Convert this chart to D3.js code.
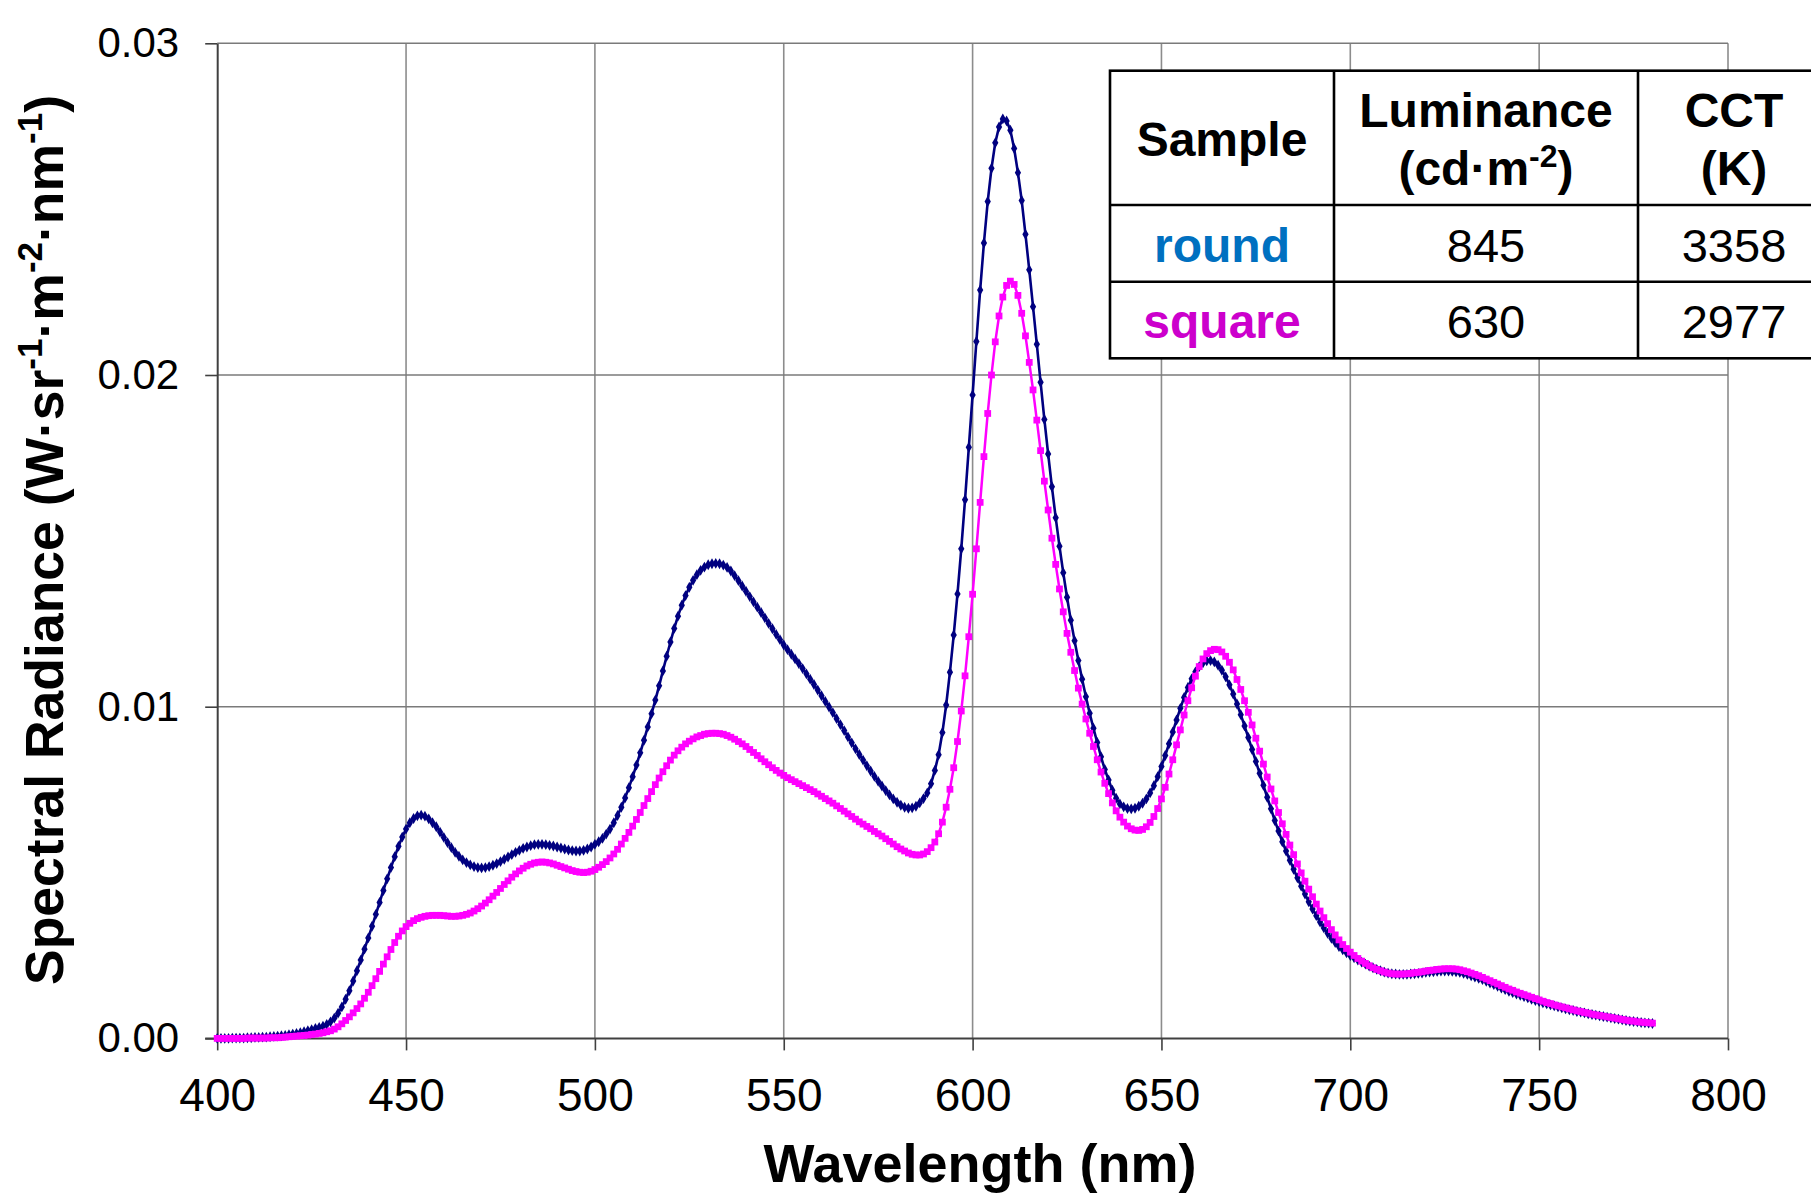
<!DOCTYPE html>
<html>
<head>
<meta charset="utf-8">
<script src="https://cdn.jsdelivr.net/npm/d3@7"></script>
<style>
  html, body { margin: 0; padding: 0; background: #ffffff; }
  svg { display: block; }
  text { font-family: "Liberation Sans", Arial, Helvetica, sans-serif; }
</style>
</head>
<body>
<svg id="chart" width="1811" height="1199"></svg>
<script>
// ---------------- DATA ----------------
const wavelengthStart = 400;   // nm, first sample
const wavelengthStep = 1;      // nm between samples

// Spectral radiance, sample "round" (navy, diamonds), 400..780 nm
const roundValues = [
  0,0,0,0,.00001,.00001,.00001,.00001,.00002,.00002,
  .00003,.00003,.00004,.00004,.00005,.00006,.00007,.00008,.00009,.00011,
  .00013,.00015,.00017,.0002,.00023,.00026,.0003,.00033,.00037,.00042,
  .0005,.00061,.00076,.00095,.00118,.00144,.00173,.00204,.00236,.00269,
  .00303,.00338,.00374,.0041,.00446,.00481,.00515,.00548,.00579,.00607,
  .00631,.0065,.00663,.00671,.00673,.0067,.00662,.0065,.00638,.00622,
  .00606,.0059,.00575,.00561,.00549,.00538,.0053,.00523,.00518,.00515,
  .00514,.00515,.00518,.00522,.00527,.00533,.0054,.00547,.00554,.00561,
  .00567,.00573,.00577,.00581,.00584,.00585,.00585,.00584,.00582,.0058,
  .00577,.00574,.00571,.00568,.00566,.00565,.00565,.00567,.00571,.00577,
  .00585,.00593,.00603,.00616,.00631,.0065,.00672,.00697,.00725,.00756,
  .00789,.00824,.00861,.00899,.00939,.00979,.0102,.01063,.01108,.01152,
  .01195,.01236,.01273,.01306,.01335,.0136,.01381,.01398,.01411,.01421,
  .01428,.01431,.01432,.01431,.01427,.0142,.01409,.01395,.0138,.01364,
  .01348,.01332,.01316,.013,.01284,.01268,.01251,.01235,.01218,.01202,
  .01186,.01172,.01158,.01144,.0113,.01115,.01099,.01083,.01067,.0105,
  .01033,.01016,.00999,.00982,.00964,.00946,.00928,.00909,.00891,.00873,
  .00856,.00839,.00822,.00806,.0079,.00775,.00761,.00747,.00734,.00722,
  .00712,.00703,.00697,.00694,.00695,.007,.0071,.00723,.0074,.00768,
  .00808,.00855,.00922,.01005,.01104,.01216,.0134,.01476,.01624,.01782,
  .0194,.02101,.02256,.02398,.02523,.02623,.027,.02748,.02772,.02766,
  .02738,.02683,.0261,.02526,.02424,.02317,.02206,.02093,.01978,.01866,
  .01762,.01663,.0157,.01484,.01404,.0133,.01261,.01199,.01139,.01083,
  .0103,.0098,.00935,.00892,.00849,.00811,.00779,.00748,.00724,.00707,
  .00698,.00693,.00692,.00694,.007,.00709,.00722,.0074,.00762,.00789,
  .0082,.00853,.00888,.00924,.0096,.00995,.01028,.01058,.01084,.01105,
  .01121,.01132,.01138,.01139,.01135,.01125,.0111,.0109,.01066,.01038,
  .01008,.00976,.00942,.00907,.00871,.00835,.00799,.00763,.00727,.00692,
  .00657,.00625,.00593,.00565,.00537,.0051,.00484,.00459,.00435,.00412,
  .0039,.0037,.00351,.00333,.00317,.00302,.00289,.00277,.00267,.00258,
  .0025,.00243,.00236,.0023,.00224,.00218,.00213,.00208,.00204,.002,
  .00197,.00195,.00194,.00193,.00193,.00193,.00194,.00195,.00196,.00197,
  .00199,.002,.00201,.00202,.00203,.00203,.00203,.00202,.00201,.00199,
  .00196,.00193,.00189,.00185,.00181,.00177,.00172,.00167,.00162,.00157,
  .00152,.00147,.00142,.00138,.00134,.0013,.00126,.00122,.00118,.00114,
  .00111,.00107,.00104,.00101,.00098,.00095,.00092,.00089,.00086,.00084,
  .00081,.00079,.00077,.00074,.00072,.0007,.00068,.00066,.00064,.00062,
  .0006,.00058,.00056,.00054,.00052,.00051,.0005,.00048,.00047,.00046,
  .00045
];

// Spectral radiance, sample "square" (magenta, squares), 400..780 nm
const squareValues = [
  0,0,0,0,0,0,0,0,.00001,.00001,
  .00001,.00001,.00001,.00001,.00002,.00002,.00002,.00003,.00004,.00005,
  .00006,.00007,.00008,.00009,.0001,.00012,.00013,.00015,.00017,.0002,
  .00023,.00028,.00035,.00044,.00054,.00065,.00077,.0009,.00104,.00121,
  .00139,.00159,.0018,.00202,.00224,.00246,.00268,.00289,.00308,.00324,
  .00337,.00347,.00355,.00361,.00365,.00368,.0037,.00371,.00371,.00371,
  .0037,.00369,.00368,.00368,.00369,.00371,.00374,.00378,.00384,.00391,
  .00399,.00408,.00418,.00429,.0044,.00452,.00464,.00475,.00486,.00496,
  .00505,.00513,.0052,.00525,.00529,.00531,.00532,.00531,.00529,.00526,
  .00522,.00518,.00514,.0051,.00506,.00503,.00501,.005,.00501,.00504,
  .00509,.00516,.00524,.00533,.00544,.00556,.0057,.00586,.00603,.00621,
  .0064,.0066,.00681,.00702,.00723,.00744,.00765,.00785,.00804,.00822,
  .00839,.00854,.00867,.00878,.00888,.00896,.00903,.00909,.00913,.00917,
  .00919,.0092,.0092,.00919,.00917,.00913,.00908,.00902,.00895,.00888,
  .0088,.00871,.00862,.00853,.00843,.00834,.00825,.00816,.00808,.008,
  .00793,.00786,.0078,.00774,.00768,.00762,.00756,.0075,.00744,.00737,
  .0073,.00723,.00716,.00709,.00701,.00693,.00685,.00677,.00669,.00661,
  .00653,.00646,.00639,.00632,.00624,.00617,.0061,.00602,.00594,.00586,
  .00578,.00571,.00565,.00559,.00555,.00553,.00553,.00556,.00563,.00575,
  .00592,.00617,.00652,.00697,.00751,.00816,.00895,.00987,.01093,.01211,
  .01339,.01476,.01616,.01754,.01884,.02,.021,.02178,.02235,.0227,
  .02283,.02273,.0224,.02186,.02118,.02038,.01955,.01864,.01772,.0168,
  .01593,.01508,.01429,.01355,.01286,.01221,.01164,.01109,.01056,.01008,
  .00963,.0092,.0088,.0084,.00803,.00769,.00738,.0071,.00686,.00667,
  .00652,.0064,.00632,.00628,.00627,.0063,.00638,.00651,.00669,.00693,
  .00722,.00757,.00797,.0084,.00885,.0093,.00975,.01018,.01057,.01092,
  .01121,.01144,.0116,.01169,.01173,.01172,.01165,.01152,.01134,.01111,
  .01082,.01052,.01018,.00983,.00945,.00905,.00866,.00827,.00788,.00752,
  .00716,.00681,.00647,.00615,.00583,.00554,.00526,.00499,.00474,.0045,
  .00427,.00405,.00384,.00364,.00346,.00328,.00312,.00297,.00283,.00271,
  .0026,.0025,.00241,.00233,.00226,.00219,.00213,.00208,.00204,.002,
  .00197,.00195,.00194,.00194,.00194,.00195,.00196,.00198,.00199,.00201,
  .00203,.00205,.00206,.00208,.00209,.0021,.0021,.0021,.00209,.00207,
  .00204,.00201,.00197,.00193,.00189,.00184,.00179,.00174,.00169,.00164,
  .00159,.00154,.00149,.00145,.0014,.00136,.00132,.00128,.00124,.0012,
  .00116,.00112,.00108,.00105,.00101,.00098,.00095,.00092,.00089,.00086,
  .00083,.00081,.00078,.00076,.00073,.00071,.00069,.00067,.00065,.00063,
  .00061,.00059,.00057,.00055,.00053,.00052,.0005,.00049,.00048,.00047,
  .00046
];

const xTickValues = [400, 450, 500, 550, 600, 650, 700, 750, 800];
const yTickValues = [0, 0.01, 0.02, 0.03];
const yTickLabels = ["0.00", "0.01", "0.02", "0.03"];

const tableHeader = ["Sample", "Luminance", "CCT"];
const tableSamples = ["round", "square"];
const tableLuminance = ["845", "630"];
const tableCCT = ["3358", "2977"];

// ---------------- CHART ----------------
const svg = d3.select("#chart");
const W = 1811, H = 1199;
const plot = { left: 217.2, right: 1728, top: 43.3, bottom: 1038.4 };

const x = d3.scaleLinear().domain([400, 800]).range([plot.left, plot.right]);
const y = d3.scaleLinear().domain([0, 0.03]).range([plot.bottom, plot.top]);

svg.append("rect").attr("width", W).attr("height", H).attr("fill", "#ffffff");

// gridlines
const grid = svg.append("g");
grid.selectAll("line.v").data(xTickValues.filter(d => d > 400)).join("line")
  .attr("x1", d => x(d)).attr("x2", d => x(d))
  .attr("y1", y(0.03)).attr("y2", y(0))
  .attr("stroke", "#8c8c8c").attr("stroke-width", 1.6);
grid.selectAll("line.h").data(yTickValues.filter(d => d > 0)).join("line")
  .attr("x1", x(400)).attr("x2", x(800))
  .attr("y1", d => y(d)).attr("y2", d => y(d))
  .attr("stroke", "#7a7a7a").attr("stroke-width", 1.6);

// axes
const axisColor = "#404040";
const yAxis = d3.axisLeft(y).tickValues(yTickValues)
  .tickFormat((d, i) => yTickLabels[i]).tickSize(12).tickSizeOuter(0).tickPadding(26);
const gy = svg.append("g").attr("transform", `translate(${plot.left},0)`).call(yAxis);
gy.select(".domain").attr("stroke", axisColor).attr("stroke-width", 2);
gy.selectAll(".tick line").attr("stroke", axisColor).attr("stroke-width", 1.6);
gy.selectAll(".tick text").attr("font-size", 42).attr("fill", "#000")
  .attr("font-family", "'Liberation Sans', Arial, sans-serif");

const xAxis = d3.axisBottom(x).tickValues(xTickValues)
  .tickFormat(d3.format("d")).tickSize(12).tickSizeOuter(0).tickPadding(28);
const gx = svg.append("g").attr("transform", `translate(0,${plot.bottom})`).call(xAxis);
gx.select(".domain").attr("stroke", axisColor).attr("stroke-width", 2)
  .attr("d", `M${plot.left - 12},0H${plot.right}`);
gx.selectAll(".tick line").attr("stroke", axisColor).attr("stroke-width", 1.6);
gx.selectAll(".tick text").attr("font-size", 46).attr("fill", "#000")
  .attr("font-family", "'Liberation Sans', Arial, sans-serif");

// axis titles
svg.append("text")
  .attr("x", 980).attr("y", 1182)
  .attr("text-anchor", "middle")
  .attr("font-size", 54).attr("font-weight", "bold")
  .text("Wavelength (nm)");

const yt = svg.append("text")
  .attr("transform", "translate(63,540) rotate(-90)")
  .attr("text-anchor", "middle")
  .attr("font-size", 53.5).attr("font-weight", "bold");
const ytParts = [
  ["Spectral Radiance (W\u00B7sr", 0], ["-1", 1], ["\u00B7m", 0], ["-2", 1],
  ["\u00B7nm", 0], ["-1", 1], [")", 0]
];
let prevSup = 0;
ytParts.forEach(([t, sup]) => {
  const ts = yt.append("tspan").text(t);
  if (sup && !prevSup) ts.attr("dy", -21).attr("font-size", 35);
  if (!sup && prevSup) ts.attr("dy", 21);
  prevSup = sup;
});

// series
const roundData = roundValues.map((v, i) => ({ wl: wavelengthStart + i * wavelengthStep, v }));
const squareData = squareValues.map((v, i) => ({ wl: wavelengthStart + i * wavelengthStep, v }));

const line = d3.line().x(d => x(d.wl)).y(d => y(d.v));

function drawSeries(data, color, symbolType, symbolSize, lw) {
  const g = svg.append("g");
  g.append("path").datum(data).attr("d", line)
    .attr("fill", "none").attr("stroke", color).attr("stroke-width", lw)
    .attr("stroke-linejoin", "round");
  const sym = d3.symbol().type(symbolType).size(symbolSize);
  g.selectAll("path.m").data(data).join("path")
    .attr("class", "m")
    .attr("transform", d => `translate(${x(d.wl)},${y(d.v)})`)
    .attr("d", sym)
    .attr("fill", color);
}
drawSeries(roundData, "#000080", d3.symbolDiamond, 34, 2.6);
drawSeries(squareData, "#ff00ff", d3.symbolSquare, 46, 2.5);

// ---------------- TABLE ----------------
const tb = { left: 1110, right: 1830, cols: [1110, 1334, 1638, 1830], rows: [70.7, 205, 281.7, 358.3] };
const tg = svg.append("g");
tg.append("rect")
  .attr("x", tb.left).attr("y", tb.rows[0])
  .attr("width", tb.right - tb.left).attr("height", tb.rows[3] - tb.rows[0])
  .attr("fill", "#ffffff").attr("stroke", "#000").attr("stroke-width", 2.6);
tb.cols.slice(1, 3).forEach(cx => tg.append("line")
  .attr("x1", cx).attr("x2", cx).attr("y1", tb.rows[0]).attr("y2", tb.rows[3])
  .attr("stroke", "#000").attr("stroke-width", 2.6));
tb.rows.slice(1, 3).forEach(ry => tg.append("line")
  .attr("x1", tb.left).attr("x2", tb.right).attr("y1", ry).attr("y2", ry)
  .attr("stroke", "#000").attr("stroke-width", 2.6));

const colCenters = [0, 1, 2].map(i => (tb.cols[i] + tb.cols[i + 1]) / 2);

function cellText(cx, by, txt, opts) {
  return tg.append("text").attr("x", cx).attr("y", by)
    .attr("text-anchor", "middle")
    .attr("font-size", opts.size).attr("font-weight", opts.bold ? "bold" : "normal")
    .attr("fill", opts.color || "#000").text(txt);
}
cellText(colCenters[0], 156, tableHeader[0], { size: 48, bold: true });
cellText(colCenters[1], 126.7, tableHeader[1], { size: 48, bold: true });
const unitL = tg.append("text").attr("x", colCenters[1]).attr("y", 185)
  .attr("text-anchor", "middle").attr("font-size", 48).attr("font-weight", "bold");
unitL.append("tspan").text("(cd\u00B7m");
unitL.append("tspan").attr("dy", -18).attr("font-size", 32).text("-2");
unitL.append("tspan").attr("dy", 18).text(")");
cellText(colCenters[2], 126.7, tableHeader[2], { size: 48, bold: true });
cellText(colCenters[2], 185, "(K)", { size: 48, bold: true });

const sampleColors = ["#0070c0", "#cc00cc"];
const rowBase = [261.7, 338.3];
tableSamples.forEach((s, i) => {
  cellText(colCenters[0], rowBase[i], s, { size: 48, bold: true, color: sampleColors[i] });
  cellText(colCenters[1], rowBase[i], tableLuminance[i], { size: 47 });
  cellText(colCenters[2], rowBase[i], tableCCT[i], { size: 47 });
});
</script>
</body>
</html>
